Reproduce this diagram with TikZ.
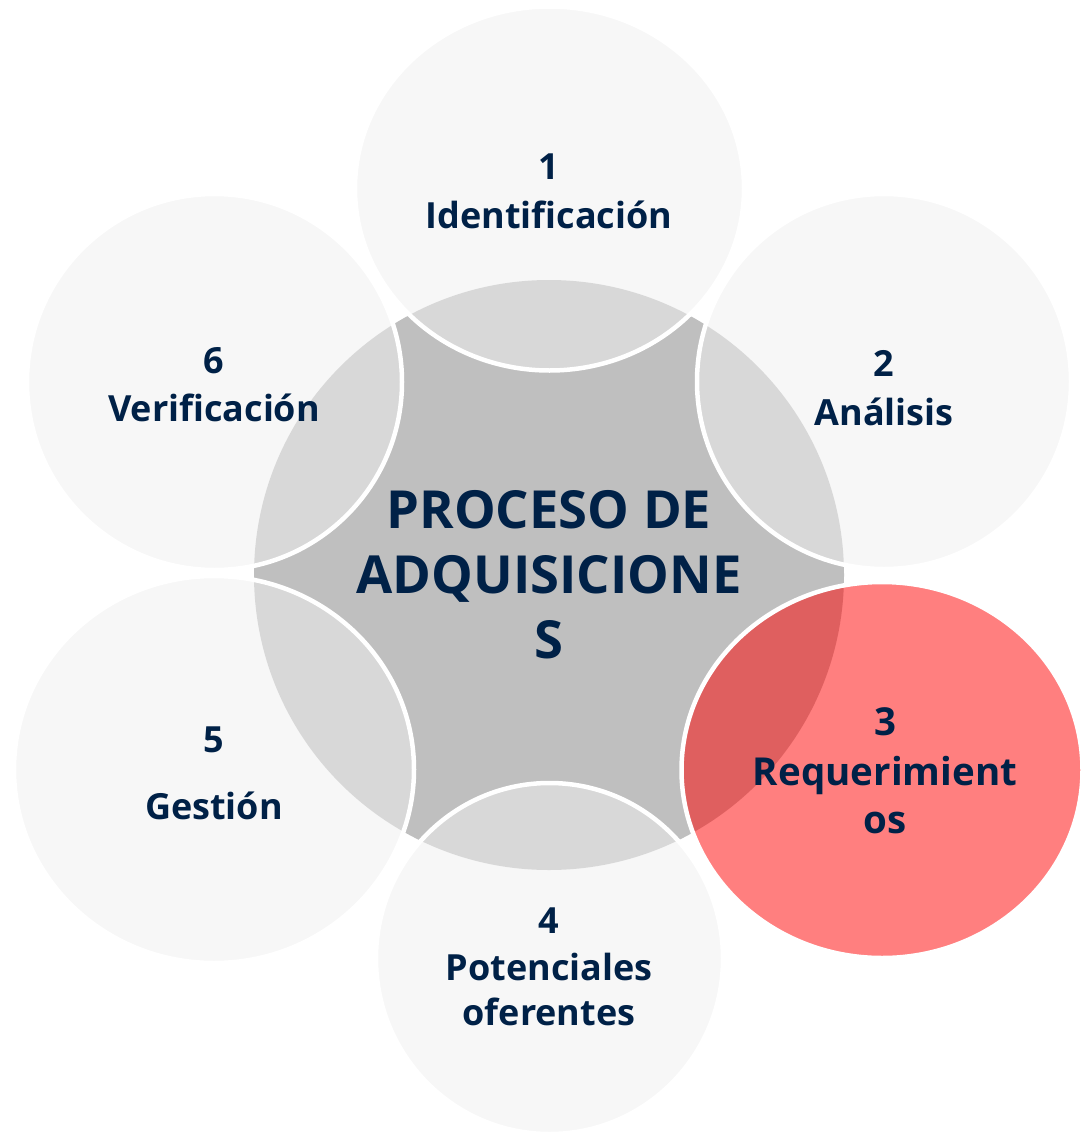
\documentclass[tikz,border=0pt]{standalone}
\usepackage{fontspec}
\setmainfont{Open Sans}
\usetikzlibrary{shapes.geometric}
\definecolor{navy}{RGB}{0,33,71}
\definecolor{ringfill}{RGB}{240,240,240}
\definecolor{corefill}{RGB}{191,191,191}
\tikzset{
  core/.style={circle, fill=corefill, inner sep=0pt, outer sep=0pt, minimum size=590pt},
  ring/.style={ellipse, fill=ringfill, fill opacity=0.53, draw=white, line width=4.5pt, inner sep=0pt, outer sep=0pt},
  hot/.style={ellipse, fill=red, fill opacity=0.5, draw=white, line width=4.5pt, inner sep=0pt, outer sep=0pt},
  lbl/.style={anchor=base, text=navy, inner sep=0pt, font=\bfseries\fontsize{36}{49}\selectfont},
  lblb/.style={anchor=base, text=navy, inner sep=0pt, font=\bfseries\fontsize{38.5}{49}\selectfont},
  big/.style={anchor=base, text=navy, inner sep=0pt, font=\bfseries\fontsize{52.5}{65}\selectfont}
}
\begin{document}
\begin{tikzpicture}[x=1pt,y=-1pt]
\useasboundingbox (0,0) rectangle (1081,1135);
\clip (0,0) rectangle (1081,1135);
\fill[white] (0,0) rectangle (1081,1135);
\node[core] (center) at (549,575) {};
\node[ring, minimum width=389pt, minimum height=364pt] (c1) at (549.5,188.5) {};
\node[ring, minimum width=374pt, minimum height=375pt] (c2) at (884,381.5) {};
\node[hot,  minimum width=401pt, minimum height=376pt] (c3) at (882,770) {};
\node[ring, minimum width=347pt, minimum height=351pt] (c4) at (549.5,958.5) {};
\node[ring, minimum width=400pt, minimum height=387pt] (c5) at (214,769.5) {};
\node[ring, minimum width=375pt, minimum height=376pt] (c6) at (214.5,382) {};
% texts
\node[big] (t0a) at (549,528) {PROCESO DE};
\node[big] (t0b) at (549,593) {ADQUISICIONE};
\node[big] (t0c) at (549,658) {S};
\node[lbl] (t1n) at (549,179) {1};
\node[lbl] (t1l) at (549,228) {Identificación};
\node[lbl] (t2n) at (884,376) {2};
\node[lbl] (t2l) at (884,425) {Análisis};
\node[lblb] (t3n) at (885,735) {3};
\node[lblb] (t3l) at (885,785) {Requerimient};
\node[lblb] (t3m) at (885,833) {os};
\node[lbl] (t4n) at (549,933) {4};
\node[lbl] (t4l) at (549,980) {Potenciales};
\node[lbl] (t4m) at (549,1025) {oferentes};
\node[lbl] (t5n) at (214,752) {5};
\node[lbl] (t5l) at (214,819) {Gestión};
\node[lbl] (t6n) at (214,373) {6};
\node[lbl] (t6l) at (214,421) {Verificación};
\end{tikzpicture}
\end{document}
